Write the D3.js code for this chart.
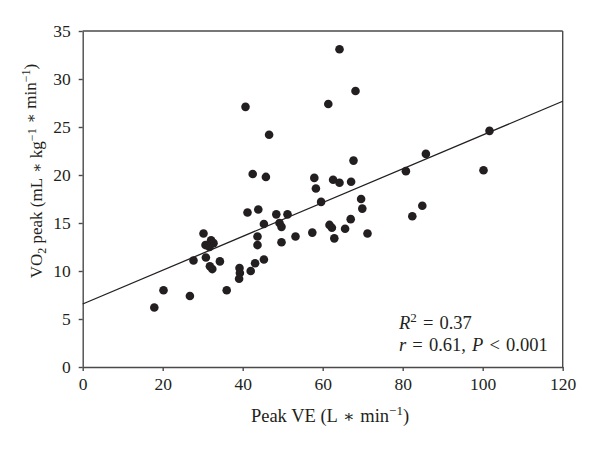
<!DOCTYPE html>
<html><head><meta charset="utf-8">
<script src="https://cdn.jsdelivr.net/npm/d3@7"></script>
<style>
body{margin:0;background:#fff;}
text{font-family:"Liberation Serif","Times New Roman",serif;fill:#231f20;}
</style></head>
<body><svg id="c" width="600" height="449"></svg>
<script>
const peakVE = [17.9,20.2,26.8,27.7,30.2,30.7,32.1,32.7,31.7,30.8,31.8,32.4,34.3,36.0,39.2,39.3,39.1,42.0,43.1,45.3,40.7,41.2,43.9,45.3,43.7,43.7,42.5,45.8,46.6,48.4,49.2,49.7,51.2,49.7,53.2,57.4,57.9,58.3,59.6,61.4,64.2,68.2,62.6,64.2,67.1,67.7,61.7,62.3,62.9,65.6,67.0,69.6,69.9,71.2,80.8,85.8,82.4,84.9,100.2,101.7];
const vo2Peak = [6.2,8.0,7.4,11.1,13.9,12.7,13.2,12.9,12.5,11.4,10.5,10.2,11.0,8.0,10.3,9.8,9.2,10.0,10.8,11.2,27.1,16.1,16.4,14.9,13.6,12.7,20.1,19.8,24.2,15.9,15.0,14.6,15.9,13.0,13.6,14.0,19.7,18.6,17.2,27.4,33.1,28.75,19.5,19.2,19.3,21.5,14.8,14.5,13.4,14.4,15.4,17.5,16.5,13.9,20.4,22.2,15.7,16.8,20.5,24.6];
const xTicks = [0,20,40,60,80,100,120];
const yTicks = [0,5,10,15,20,25,30,35];
const fitIntercept = 6.56;
const fitSlope = 0.176;

const svg = d3.select("#c");
const L=82.7, R=562.7, T=31, B=367;
const x = d3.scaleLinear().domain([0,120]).range([L,R]);
const y = d3.scaleLinear().domain([0,35]).range([B,T]);
const axisCol = "#4a4a4a";

svg.append("line").attr("x1",L).attr("x2",R).attr("y1",T).attr("y2",T).attr("stroke",axisCol).attr("stroke-width",1.4);
svg.append("line").attr("x1",R).attr("x2",R).attr("y1",T).attr("y2",B).attr("stroke",axisCol).attr("stroke-width",1.4);

const gx = svg.append("g").attr("transform",`translate(0,${B})`)
  .call(d3.axisBottom(x).tickValues(xTicks).tickSize(4).tickPadding(7).tickSizeOuter(0));
const gy = svg.append("g").attr("transform",`translate(${L},0)`)
  .call(d3.axisLeft(y).tickValues(yTicks).tickSize(4).tickPadding(8).tickSizeOuter(0));
[gx,gy].forEach(g=>{
  g.select(".domain").attr("stroke",axisCol).attr("stroke-width",1.4);
  g.selectAll(".tick line").attr("stroke",axisCol).attr("stroke-width",1.4);
  g.selectAll(".tick text").style("font-family",'"Liberation Serif",serif').style("font-size","17.5px").attr("fill","#231f20");
});

svg.append("line")
  .attr("x1",x(0)).attr("y1",y(fitIntercept))
  .attr("x2",x(120)).attr("y2",y(fitIntercept+fitSlope*120))
  .attr("stroke","#231f20").attr("stroke-width",1.3);

svg.append("g").selectAll("circle").data(d3.range(peakVE.length)).join("circle")
  .attr("cx",i=>x(peakVE[i])).attr("cy",i=>y(vo2Peak[i])).attr("r",4.3).attr("fill","#231f20");

const star = (s,fs) => s.append("tspan").text(" \u2217 ").style("font-family",'"DejaVu Serif",serif').style("font-size",fs);

// x title
const xt = svg.append("text").attr("x",330).attr("y",422).attr("text-anchor","middle").style("font-size","18.5px");
xt.append("tspan").text("Peak VE (L");
star(xt,"17px");
xt.append("tspan").text("min");
xt.append("tspan").text("\u22121").attr("dy",-7).style("font-size","13px");
xt.append("tspan").text(")").attr("dy",7);

// y title
const yt = svg.append("text").attr("transform","translate(41.5,171) rotate(-90)").attr("text-anchor","middle").style("font-size","17px");
yt.append("tspan").text("VO");
yt.append("tspan").text("2").attr("dy",4).style("font-size","12px");
yt.append("tspan").text(" peak (mL").attr("dy",-4);
star(yt,"15px");
yt.append("tspan").text("kg");
yt.append("tspan").text("\u22121").attr("dy",-6).style("font-size","12px");
yt.append("tspan").text("").attr("dy",6);
star(yt,"15px");
yt.append("tspan").text("min");
yt.append("tspan").text("\u22121").attr("dy",-6).style("font-size","12px");
yt.append("tspan").text(")").attr("dy",6);

// annotation
const a1 = svg.append("text").attr("x",399).attr("y",329).style("font-size","18.5px").attr("word-spacing","1.5px");
a1.append("tspan").text("R").style("font-style","italic");
a1.append("tspan").text("2").attr("dy",-7).style("font-size","13px");
a1.append("tspan").text(" = 0.37").attr("dy",7);
const a2 = svg.append("text").attr("x",399).attr("y",351).style("font-size","18.5px").attr("word-spacing","1.5px");
a2.append("tspan").text("r").style("font-style","italic");
a2.append("tspan").text(" = 0.61, ");
a2.append("tspan").text("P").style("font-style","italic");
a2.append("tspan").text(" < 0.001");
</script></body></html>
